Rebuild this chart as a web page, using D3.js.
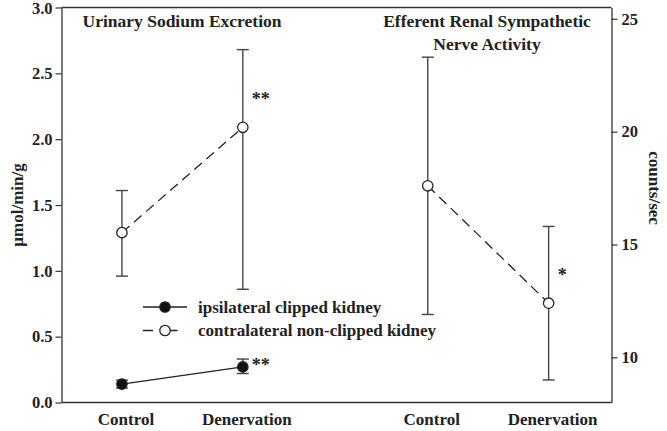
<!DOCTYPE html>
<html>
<head>
<meta charset="utf-8">
<script src="https://cdn.jsdelivr.net/npm/d3@7"></script>
<style>
  body { margin: 0; background: #fff; }
  text { font-family: "Liberation Serif", "Times New Roman", serif; font-weight: bold; fill: #222; }
</style>
</head>
<body>
<div id="chart"></div>
<script>
// values (mean, top and bottom of error bar)
const categories = ["Control", "Denervation"];
const panelTitles = [["Urinary Sodium Excretion"], ["Efferent Renal Sympathetic", "Nerve Activity"]];
const clippedMean = [0.14, 0.27];
const clippedHigh = [0.17, 0.33];
const clippedLow = [0.11, 0.22];
const contraMean = [1.29, 2.09];
const contraHigh = [1.61, 2.68];
const contraLow = [0.96, 0.86];
const nerveMean = [17.6, 12.4];
const nerveHigh = [23.3, 15.8];
const nerveLow = [11.9, 9.0];
const sodiumStars = ["", "**"];
const clippedStars = ["", "**"];
const nerveStars = ["", "*"];
const leftTicks = [0, 0.5, 1.0, 1.5, 2.0, 2.5, 3.0];
const rightTicks = [10, 15, 20, 25];
const legendLabels = ["ipsilateral clipped kidney", "contralateral non-clipped kidney"];

const width = 667, height = 431;
const margin = { top: 7.5, right: 55.5, bottom: 28.5, left: 61.5 };

const svg = d3.select("#chart").append("svg")
    .attr("width", width)
    .attr("height", height);

const x = d3.scaleLinear().domain([0.5, 5.05]).range([margin.left, width - margin.right]);
const yLeft = d3.scaleLinear().domain([0, 3]).range([height - margin.bottom, margin.top]);
const yRight = d3.scaleLinear().domain([8, 25.5]).range([height - margin.bottom, margin.top]);

const panelOffset = [0, 2.53];
const xPos = (panel, i) => x(i + 1 + panelOffset[panel]);

const axisColor = "#333";

// frame lines top and bottom
svg.append("line")
    .attr("x1", margin.left).attr("x2", width - margin.right)
    .attr("y1", margin.top).attr("y2", margin.top)
    .attr("stroke", axisColor).attr("stroke-width", 1.3);
svg.append("line")
    .attr("x1", margin.left).attr("x2", width - margin.right)
    .attr("y1", height - margin.bottom).attr("y2", height - margin.bottom)
    .attr("stroke", axisColor).attr("stroke-width", 1.3);

// left axis
const gLeft = svg.append("g")
    .attr("transform", `translate(${margin.left},0)`)
    .call(d3.axisLeft(yLeft).tickValues(leftTicks).tickFormat(d3.format(".1f")).tickSize(6).tickSizeOuter(0));
// right axis
const gRight = svg.append("g")
    .attr("transform", `translate(${width - margin.right},0)`)
    .call(d3.axisRight(yRight).tickValues(rightTicks).tickSize(6).tickSizeOuter(0));

[gLeft, gRight].forEach(g => {
    g.select(".domain").attr("stroke", axisColor).attr("stroke-width", 1.3);
    g.selectAll(".tick line").attr("stroke", axisColor).attr("stroke-width", 1.2);
    g.selectAll(".tick text").attr("font-size", 16.5).attr("font-family", "Liberation Serif").attr("font-weight", "bold").attr("fill", "#222");
});
gLeft.selectAll(".tick text").attr("x", -9);
gRight.selectAll(".tick text").attr("x", 10);
// keep the top label inside the page
gLeft.selectAll(".tick text").filter(d => d === 3).attr("dy", "0.38em");

// axis titles
svg.append("text")
    .attr("transform", `translate(23,${yLeft(1.5)}) rotate(-90)`)
    .attr("text-anchor", "middle")
    .attr("font-size", 17)
    .text("\u00b5mol/min/g");
svg.append("text")
    .attr("transform", `translate(649,${yRight(17.5)}) rotate(90)`)
    .attr("text-anchor", "middle")
    .attr("font-size", 17)
    .text("counts/sec");

// x category labels
[0, 1].forEach(p => {
    categories.forEach((c, i) => {
        svg.append("text")
            .attr("x", xPos(p, i) + 4)
            .attr("y", 425)
            .attr("text-anchor", "middle")
            .attr("font-size", 17)
            .text(c);
    });
});

// panel titles
svg.append("text")
    .attr("x", 182).attr("y", 27)
    .attr("text-anchor", "middle")
    .attr("font-size", 17.5)
    .text(panelTitles[0][0]);
panelTitles[1].forEach((t, j) => {
    svg.append("text")
        .attr("x", 487).attr("y", 27 + j * 23)
        .attr("text-anchor", "middle")
        .attr("font-size", 17.5)
        .text(t);
});

function drawSeries(panel, y, mean, high, low, stars, filled, dashed) {
    const pts = mean.map((m, i) => ({ x: xPos(panel, i), m: m, hi: high[i], lo: low[i], s: stars[i] }));
    const capW = 6;
    const g = svg.append("g");
    // error bars
    pts.forEach(d => {
        g.append("line").attr("x1", d.x).attr("x2", d.x)
            .attr("y1", y(d.hi)).attr("y2", y(d.lo))
            .attr("stroke", "#444").attr("stroke-width", 1.4);
        [d.hi, d.lo].forEach(v => {
            g.append("line").attr("x1", d.x - capW).attr("x2", d.x + capW)
                .attr("y1", y(v)).attr("y2", y(v))
                .attr("stroke", "#444").attr("stroke-width", 1.4);
        });
    });
    // connecting line
    g.append("path")
        .datum(pts)
        .attr("fill", "none")
        .attr("stroke", "#222")
        .attr("stroke-width", 1.3)
        .attr("stroke-dasharray", dashed ? "10,6" : null)
        .attr("d", d3.line().x(d => d.x).y(d => y(d.m)));
    g.selectAll("circle").data(pts).join("circle")
        .attr("cx", d => d.x).attr("cy", d => y(d.m))
        .attr("r", 5.2)
        .attr("fill", filled ? "#111" : "#fff")
        .attr("stroke", "#222").attr("stroke-width", 1.3);
    // significance stars
    pts.filter(d => d.s).forEach(d => {
        const sy = filled ? y(d.m) + 4 : y(d.hi) + 0.62 * (y(d.m) - y(d.hi)) + 7;
        g.append("text")
            .attr("x", d.x + 9)
            .attr("y", sy)
            .attr("font-size", 18)
            .attr("font-weight", "normal")
            .text(d.s);
    });
}

drawSeries(0, yLeft, clippedMean, clippedHigh, clippedLow, clippedStars, true, false);
drawSeries(0, yLeft, contraMean, contraHigh, contraLow, sodiumStars, false, true);
drawSeries(1, yRight, nerveMean, nerveHigh, nerveLow, nerveStars, false, true);

// legend
const legend = svg.append("g").attr("transform", "translate(143,307)");
legendLabels.forEach((label, i) => {
    const row = legend.append("g").attr("transform", `translate(0,${i * 23.5})`);
    row.append("line")
        .attr("x1", 0).attr("x2", 44).attr("y1", 0).attr("y2", 0)
        .attr("stroke", "#222").attr("stroke-width", 1.3)
        .attr("stroke-dasharray", i === 1 ? "10,14.5" : null);
    row.append("circle")
        .attr("cx", 22).attr("cy", 0).attr("r", 5.2)
        .attr("fill", i === 0 ? "#111" : "#fff")
        .attr("stroke", "#222").attr("stroke-width", 1.3);
    row.append("text")
        .attr("x", 55).attr("y", 5.5)
        .attr("font-size", 17)
        .text(label);
});
</script>
</body>
</html>
